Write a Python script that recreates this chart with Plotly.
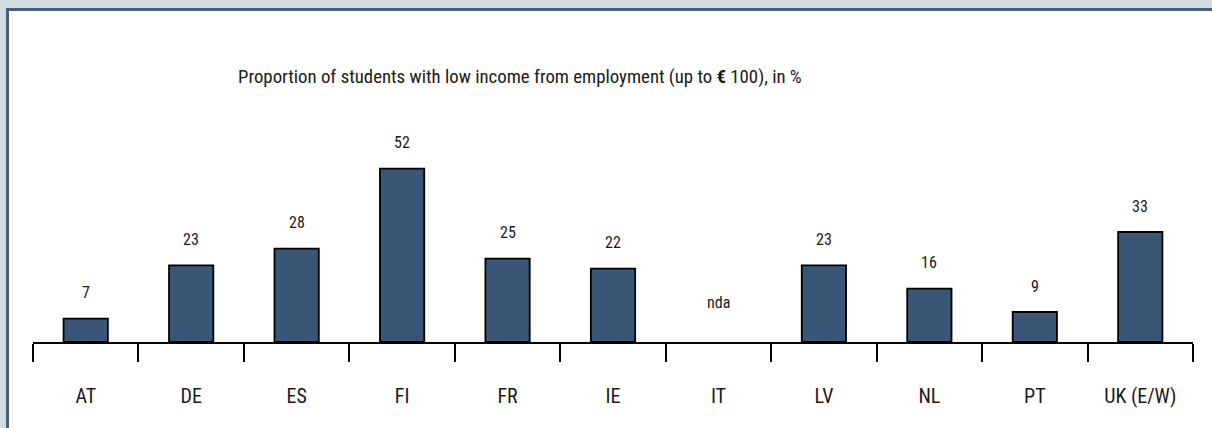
import plotly.graph_objects as go

categories = ["AT", "DE", "ES", "FI", "FR", "IE", "IT", "LV", "NL", "PT", "UK (E/W)"]
values = [7, 23, 28, 52, 25, 22, None, 23, 16, 9, 33]
labels = ["7", "23", "28", "52", "25", "22", "nda", "23", "16", "9", "33"]
title_text = "Proportion of students with low income from employment (up to <b>€</b> 100), in %"

FONT = "Liberation Sans Narrow, Arial Narrow, Roboto Condensed, DejaVu Sans Condensed, sans-serif"
W, H = 1212, 428
L, R, T, B = 33, 19, 142, 86

fig = go.Figure()
fig.add_trace(go.Bar(
    x=categories,
    y=values,
    width=0.42,
    marker=dict(color="#3a5676", line=dict(color="#000000", width=1.8)),
    hoverinfo="x+y",
))

for c, v, lab in zip(categories, values, labels):
    fig.add_annotation(
        x=c, y=v if v is not None else 0,
        text=lab, showarrow=False,
        yshift=26 if v is not None else 40,
        font=dict(family=FONT, size=16, color="#1a1a1a"),
        xref="x", yref="y",
    )

pw = W - L - R
ph = H - T - B
# panel (white with blue border)
fig.add_shape(type="rect", xref="paper", yref="paper",
              x0=(7.5 - L) / pw, x1=(W + 10 - L) / pw,
              y0=-(H + 10 - T - ph) / ph, y1=(H - 9.5 - B) / ph,
              line=dict(color="#46607f", width=3), fillcolor="white", layer="below")

fig.add_annotation(
    x=(520 - L) / pw, y=(H - 77 - B) / ph, xref="paper", yref="paper",
    text=title_text, showarrow=False, xanchor="center", yanchor="middle",
    font=dict(family=FONT, size=18.8, color="#1a1a1a"),
)

fig.update_layout(
    width=W, height=H,
    margin=dict(l=L, r=R, t=T, b=B, pad=0),
    paper_bgcolor="#d3dae2",
    plot_bgcolor="rgba(0,0,0,0)",
    showlegend=False,
    bargap=0.58,
    xaxis=dict(
        type="category", tickson="boundaries", ticks="outside", ticklen=18,
        tickwidth=1.5, tickcolor="#000000", showline=True, linecolor="#000000",
        linewidth=1.5, showgrid=False, zeroline=False,
        tickfont=dict(family=FONT, size=20, color="#1a1a1a"),
        ticklabelstandoff=35,
        range=[-0.5, 10.5],
    ),
    yaxis=dict(range=[0, 60], visible=False, showgrid=False, zeroline=False),
)

fig.write_html(
    "out.html",
    config={"displayModeBar": False},
    post_script="document.body.style.margin='0';document.body.style.padding='0';document.body.style.overflow='hidden';",
)
